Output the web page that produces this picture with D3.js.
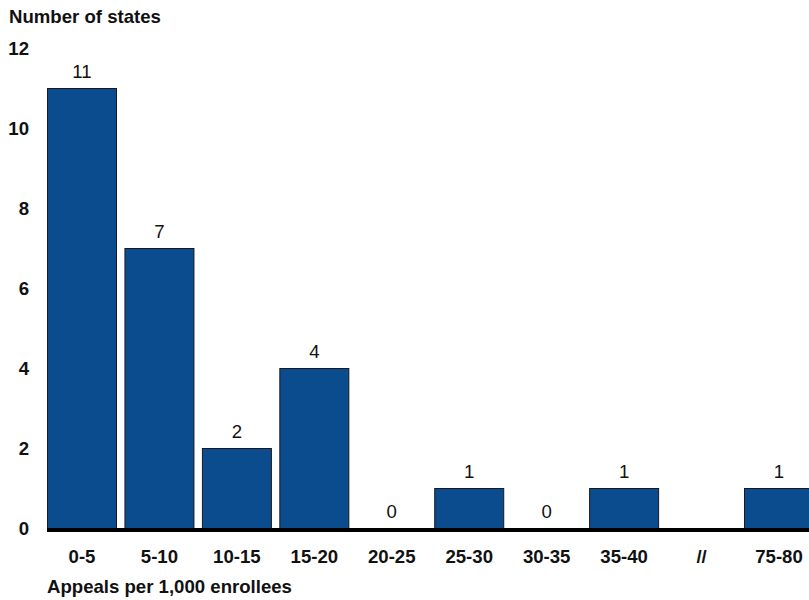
<!DOCTYPE html>
<html>
<head>
<meta charset="utf-8">
<script src="https://cdn.jsdelivr.net/npm/d3@7"></script>
<style>
  html, body { margin: 0; padding: 0; background: #fff; }
  svg { display: block; font-family: Arial, "Liberation Sans", sans-serif; }
</style>
</head>
<body>
<svg id="chart" width="809" height="600"></svg>
<script>
// Appeal-rate bins (appeals per 1,000 enrollees); "//" marks the axis break
const categories = ["0-5", "5-10", "10-15", "15-20", "20-25", "25-30", "30-35", "35-40", "//", "75-80"];
// Number of states in each bin (null = axis break, nothing drawn)
const stateCounts = [11, 7, 2, 4, 0, 1, 0, 1, null, 1];
const yTicks = [0, 2, 4, 6, 8, 10, 12];

const svg = d3.select("#chart");
const W = 809, H = 600;
const plotLeft = 47, plotRight = 814, plotTop = 48, plotBottom = 528;
const FONT = "Arial, 'Liberation Sans', sans-serif";
const FS = 18.6;

const x = d3.scaleBand()
  .domain(categories)
  .range([plotLeft, plotRight])
  .paddingInner(0.096)
  .paddingOuter(0);

const y = d3.scaleLinear()
  .domain([0, 12])
  .range([plotBottom, plotTop]);

const data = categories.map((c, i) => ({ cat: c, val: stateCounts[i] }));

// Bars
svg.append("g")
  .selectAll("rect")
  .data(data.filter(d => d.val !== null && d.val > 0))
  .join("rect")
  .attr("x", d => x(d.cat) + 0.5)
  .attr("y", d => y(d.val) + 0.5)
  .attr("width", x.bandwidth() - 1)
  .attr("height", d => y(0) - y(d.val))
  .attr("fill", "#0a4c8e")
  .attr("stroke", "#1a1a1a")
  .attr("stroke-width", 1);

// Value labels above bars
svg.append("g")
  .selectAll("text")
  .data(data.filter(d => d.val !== null))
  .join("text")
  .attr("x", d => x(d.cat) + x.bandwidth() / 2)
  .attr("y", d => y(d.val) - 10)
  .attr("text-anchor", "middle")
  .attr("font-size", FS)
  .attr("fill", "#111")
  .text(d => d.val);

// Baseline
svg.append("line")
  .attr("x1", plotLeft)
  .attr("x2", W)
  .attr("y1", y(0) + 2)
  .attr("y2", y(0) + 2)
  .attr("stroke", "#000")
  .attr("stroke-width", 4);

// Y axis tick labels (no axis line)
const yAxis = d3.axisLeft(y).tickValues(yTicks).tickSize(0).tickPadding(0);
const yg = svg.append("g")
  .attr("transform", "translate(29,0)")
  .call(yAxis);
yg.select(".domain").remove();
yg.selectAll("text")
  .attr("font-size", FS)
  .attr("font-weight", "bold")
  .attr("font-family", FONT)
  .attr("fill", "#111")
  .attr("dy", "0.36em");

// X axis category labels
const xAxis = d3.axisBottom(x).tickSize(0).tickPadding(0);
const xg = svg.append("g")
  .attr("transform", "translate(0,563)")
  .call(xAxis);
xg.select(".domain").remove();
xg.selectAll("text")
  .attr("font-size", FS)
  .attr("font-weight", "bold")
  .attr("font-family", FONT)
  .attr("fill", "#111")
  .attr("dy", 0);

// Titles
svg.append("text")
  .attr("x", 9)
  .attr("y", 23)
  .attr("font-size", FS)
  .attr("font-weight", "bold")
  .attr("fill", "#111")
  .text("Number of states");

svg.append("text")
  .attr("x", 47)
  .attr("y", 593)
  .attr("font-size", FS)
  .attr("font-weight", "bold")
  .attr("fill", "#111")
  .text("Appeals per 1,000 enrollees");
</script>
</body>
</html>
